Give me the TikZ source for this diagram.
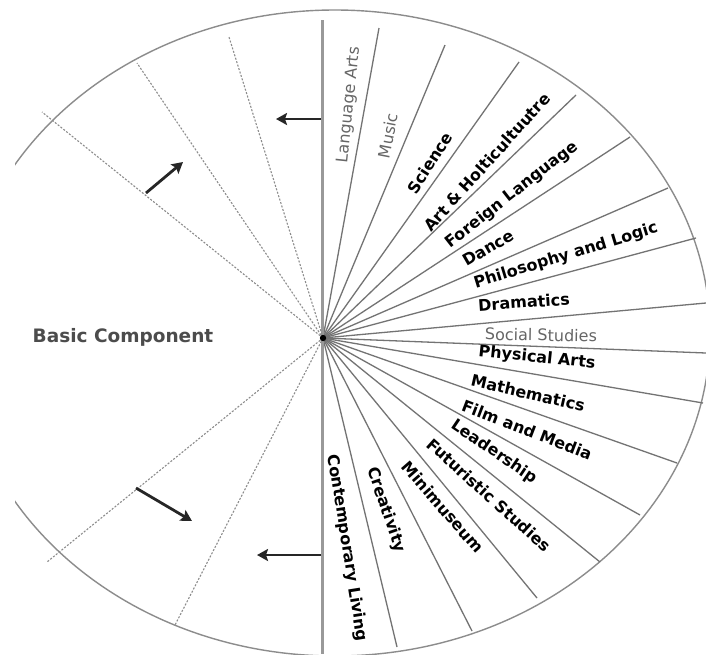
\documentclass[tikz,border=0pt]{standalone}
\usepackage{fontspec}
\setmainfont{DejaVu Sans}
\usetikzlibrary{arrows.meta}
\begin{document}
\begin{tikzpicture}[x=1pt,y=-1pt,
  radial/.style={draw=black!55, line width=1.3pt},
  axisline/.style={draw=black!40, line width=3pt},
  rim/.style={draw=black!45, line width=1.4pt},
  dashline/.style={draw=black!45, line width=1.1pt, dash pattern=on 2pt off 1.6pt},
  move/.style={draw=black!85, line width=2.8pt, -{Stealth[length=11pt,width=12pt,inset=2pt]}},
  subj/.style={font=\fontsize{16}{18}\selectfont\bfseries, inner sep=0pt},
  subjlight/.style={font=\fontsize{16}{18}\selectfont, text=black!60, inner sep=0pt},
  basic/.style={font=\fontsize{18.5}{20}\selectfont\bfseries, text=black!70, inner sep=0pt}]
\useasboundingbox (0,0) rectangle (706,654);
\fill[white] (0,0) rectangle (706,654);
\coordinate (c) at (323,338);
% rim
\begin{scope}
  \clip (15,0) rectangle (706,654);
  \draw[rim] (335,333) ellipse [x radius=375pt, y radius=323pt];
\end{scope}
% radial line ends
\coordinate (e1) at (379,28);
\coordinate (e2) at (445,45);
\coordinate (e3) at (519,62);
\coordinate (e4) at (576,95);
\coordinate (e5) at (630,137);
\coordinate (e6) at (668,188);
\coordinate (e7) at (696,238);
\coordinate (e8) at (706,303);
\coordinate (e9) at (706,353);
\coordinate (e10) at (703,403);
\coordinate (e11) at (677,463);
\coordinate (e12) at (640,515);
\coordinate (e13) at (600,562);
\coordinate (e14) at (537,598);
\coordinate (e15) at (472,631);
\coordinate (e16) at (397,647);
\foreach \i in {1,...,16} \draw[radial] (c) -- (e\i);
% vertical axis
\coordinate (vt) at (322,20);
\coordinate (vb) at (322,654);
\draw[axisline] (vt) -- (vb);
% dashed lines
\coordinate (d1) at (229,37);
\coordinate (d2) at (137,63);
\coordinate (d3) at (42,112);
\coordinate (d4) at (47,562);
\coordinate (d5) at (175,625);
\foreach \i in {1,...,5} \draw[dashline] (c) -- (d\i);
% arrows
\coordinate (a1s) at (321,119); \coordinate (a1e) at (276,119);
\coordinate (a2s) at (146,193); \coordinate (a2e) at (183,162);
\coordinate (a3s) at (136,488); \coordinate (a3e) at (192,521);
\coordinate (a4s) at (321,555); \coordinate (a4e) at (257,555);
\draw[move] (a1s) -- (a1e);
\draw[move] (a2s) -- (a2e);
\draw[move] (a3s) -- (a3e);
\draw[move] (a4s) -- (a4e);
% centre
\fill[black] (c) circle (3.2pt);
% labels
\node[subjlight, rotate=84] (t1) at (349,105) {Language Arts};
\node[subjlight, rotate=79] (t2) at (388,136) {Music};
\node[subj, rotate=57] (t3) at (430,163) {Science};
\node[subj, rotate=48] (t4) at (487,162) {Art \& Holticultuutre};
\node[subj, rotate=38] (t5) at (512,195) {Foreign Language};
\node[subj, rotate=30] (t6) at (488,248) {Dance};
\node[subj, rotate=17] (t7) at (566,256) {Philosophy and Logic};
\node[subj, rotate=4] (t8) at (524,302) {Dramatics};
\node[subjlight, rotate=-1] (t9) at (541,335) {Social Studies};
\node[subj, rotate=-6] (t10) at (537,358) {Physical Arts};
\node[subj, rotate=-13] (t11) at (528,393) {Mathematics};
\node[subj, rotate=-21] (t12) at (527,430) {Film and Media};
\node[subj, rotate=-34] (t13) at (494,452) {Leadership};
\node[subj, rotate=-42] (t14) at (489,495) {Futuristic Studies};
\node[subj, rotate=-49] (t15) at (443,507) {Minimuseum};
\node[subj, rotate=-71] (t16) at (386,510) {Creativity};
\node[subj, rotate=-81] (t17) at (347,548) {Contemporary Living};
\node[basic] (bc) at (123,337) {Basic Component};
\end{tikzpicture}
\end{document}
